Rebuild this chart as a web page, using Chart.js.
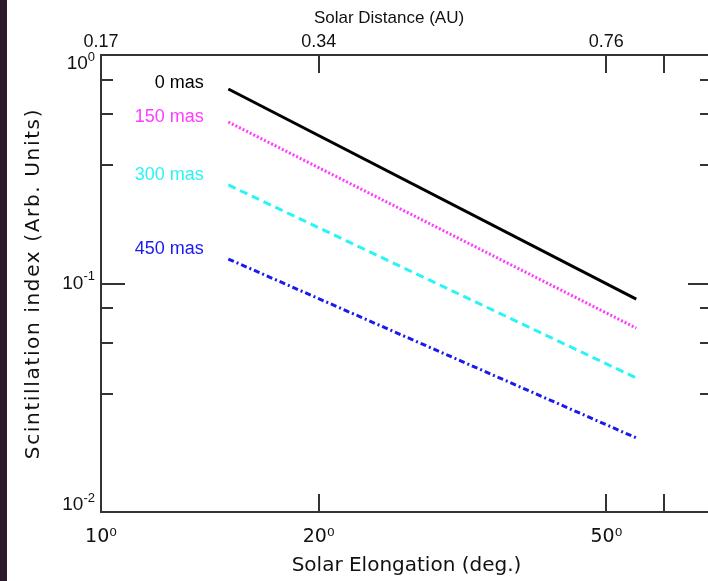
<!DOCTYPE html>
<html>
<head>
<meta charset="utf-8">
<script src="https://cdn.jsdelivr.net/npm/chart.js@4.4.0/dist/chart.umd.min.js"></script>
<style>
  html, body { margin: 0; padding: 0; background: #fff; overflow: hidden; }
  #wrap { position: relative; width: 708px; height: 581px; overflow: hidden; }
  #myChart { display: block; }
  #strip { position: absolute; left: 0; top: 0; width: 7px; height: 581px; background: #2a1a2c; }
</style>
</head>
<body>
<div id="wrap">
  <canvas id="myChart" width="720" height="581"></canvas>
  <div id="strip"></div>
</div>
<script>
// solar elongation (deg) where the model curves start and stop
const elongation = [15, 55];

// scintillation index for each source size
const mas0 = [0.71, 0.0855];
const mas150 = [0.509, 0.0638];
const mas300 = [0.270, 0.0386];
const mas450 = [0.128, 0.0211];

const seriesNames = ["0 mas", "150 mas", "300 mas", "450 mas"];
const seriesColors = ["#000000", "#ff3cff", "#2af4f4", "#1a1aee"];

// axis ticks
const elongationTicks = [10, 20, 50, 60];
const elongationLabels = ["10\u2070", "20\u2070", "50\u2070", ""];
const distanceLabels = ["0.17", "0.34", "0.76", ""];
const indexMajor = [1, 0.1, 0.01];
const indexExponents = ["0", "-1", "-2"];
const indexMinor = [0.78, 0.55, 0.33, 0.078, 0.055, 0.033];

// where the series names sit (right edge x, middle y)
const nameX = 13.87;
const nameY = [0.754, 0.535, 0.298, 0.1416];

const axisColor = "#333333";
const textColor = "#111111";
const gothic = "'DejaVu Sans'";
const helv = "'Liberation Sans', Arial";

function toPoints(vals) {
  return vals.map((v, i) => ({ x: elongation[i], y: v }));
}

// inward ticks, y labels, series names, titles
const framePlugin = {
  id: "frame",
  afterDraw(chart) {
    const { ctx, chartArea: a, scales: { x, y } } = chart;
    ctx.save();
    ctx.strokeStyle = axisColor;
    ctx.lineWidth = 2;
    ctx.beginPath();
    elongationTicks.forEach((v) => {
      if (v === 10) return;
      const px = Math.round(x.getPixelForValue(v));
      ctx.moveTo(px, a.bottom);
      ctx.lineTo(px, a.bottom - 18);
      ctx.moveTo(px, a.top);
      ctx.lineTo(px, a.top + 18);
    });
    indexMinor.forEach((v) => {
      const py = Math.round(y.getPixelForValue(v));
      ctx.moveTo(a.left, py);
      ctx.lineTo(a.left + 12, py);
      ctx.moveTo(a.right, py);
      ctx.lineTo(a.right - 12, py);
    });
    indexMajor.forEach((v) => {
      const py = Math.round(y.getPixelForValue(v));
      ctx.moveTo(a.left, py);
      ctx.lineTo(a.left + 24, py);
      ctx.moveTo(a.right, py);
      ctx.lineTo(a.right - 24, py);
    });
    ctx.stroke();

    // y tick labels as 10 with a raised exponent
    ctx.fillStyle = textColor;
    ctx.textBaseline = "middle";
    indexMajor.forEach((v, i) => {
      let py = y.getPixelForValue(v);
      py = Math.min(Math.max(py, a.top + 9), a.bottom - 7);
      ctx.font = "13px " + helv;
      const expW = ctx.measureText(indexExponents[i]).width;
      ctx.textAlign = "right";
      ctx.fillText(indexExponents[i], 95, py - 7);
      ctx.font = "19px " + helv;
      ctx.fillText("10", 95 - expW, py);
    });

    // series names
    ctx.font = "18px " + helv;
    ctx.textAlign = "right";
    seriesNames.forEach((name, i) => {
      ctx.fillStyle = seriesColors[i];
      ctx.fillText(name, x.getPixelForValue(nameX), y.getPixelForValue(nameY[i]));
    });

    // axis titles
    ctx.fillStyle = textColor;
    ctx.textAlign = "center";
    ctx.font = "17px " + helv;
    ctx.fillText("Solar Distance (AU)", 389, 18);

    ctx.font = "20px " + gothic;
    ctx.fillText("Solar Elongation (deg.)", (a.left + a.right) / 2, 566);

    ctx.translate(34, (a.top + a.bottom) / 2);
    ctx.rotate(-Math.PI / 2);
    ctx.letterSpacing = "1.65px";
    ctx.fillText("Scintillation index (Arb. Units)", 0, 0);
    ctx.restore();
  },
};

const ctx = document.getElementById("myChart");

new Chart(ctx, {
  type: "line",
  data: {
    datasets: [
      { label: seriesNames[0], data: toPoints(mas0), borderColor: seriesColors[0], borderWidth: 3 },
      { label: seriesNames[1], data: toPoints(mas150), borderColor: seriesColors[1], borderWidth: 3, borderDash: [2, 2] },
      { label: seriesNames[2], data: toPoints(mas300), borderColor: seriesColors[2], borderWidth: 3, borderDash: [8, 5] },
      { label: seriesNames[3], data: toPoints(mas450), borderColor: seriesColors[3], borderWidth: 3, borderDash: [6, 3, 2, 3] },
    ],
  },
  options: {
    responsive: false,
    animation: false,
    layout: { padding: 0 },
    elements: { point: { radius: 0 }, line: { tension: 0 } },
    plugins: { legend: { display: false }, tooltip: { enabled: false } },
    scales: {
      x: {
        type: "logarithmic",
        position: "bottom",
        min: 10,
        max: 70,
        afterBuildTicks: (s) => { s.ticks = elongationTicks.map((v) => ({ value: v })); },
        afterFit: (s) => { s.height = 69; },
        grid: { display: false, drawTicks: false },
        border: { display: true, color: axisColor, width: 2 },
        ticks: {
          autoSkip: false,
          maxRotation: 0,
          padding: 14,
          color: textColor,
          font: { family: gothic, size: 19 },
          callback: (v, i) => elongationLabels[i],
        },
      },
      x2: {
        type: "logarithmic",
        position: "top",
        min: 10,
        max: 70,
        afterBuildTicks: (s) => { s.ticks = elongationTicks.map((v) => ({ value: v })); },
        afterFit: (s) => { s.height = 55; },
        grid: { display: false, drawTicks: false },
        border: { display: true, color: axisColor, width: 2 },
        ticks: {
          autoSkip: false,
          maxRotation: 0,
          padding: 2,
          color: textColor,
          font: { family: helv, size: 18 },
          callback: (v, i) => distanceLabels[i],
        },
      },
      y: {
        type: "logarithmic",
        position: "left",
        min: 0.01,
        max: 1,
        afterFit: (s) => { s.width = 101; },
        grid: { display: false, drawTicks: false },
        border: { display: true, color: axisColor, width: 2 },
        ticks: { display: false },
      },
      y2: {
        type: "logarithmic",
        position: "right",
        min: 0.01,
        max: 1,
        afterFit: (s) => { s.width = 8; },
        grid: { display: false, drawTicks: false },
        border: { display: true, color: axisColor, width: 2 },
        ticks: { display: false },
      },
    },
  },
  plugins: [framePlugin],
});
</script>
</body>
</html>
